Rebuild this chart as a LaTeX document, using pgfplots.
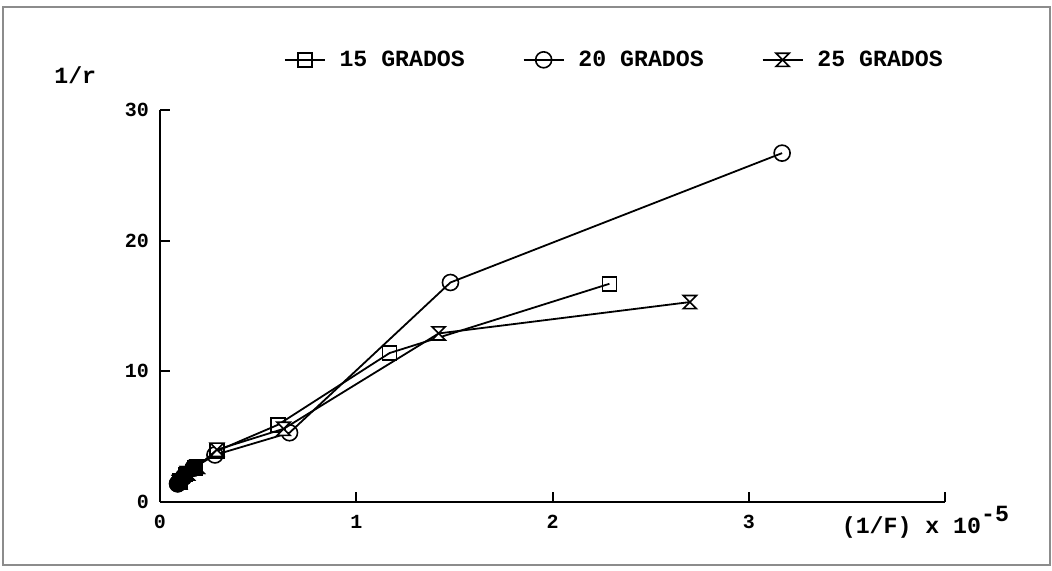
\documentclass[border=0pt]{standalone}
\usepackage{fontspec}
\setmainfont{Liberation Mono}
\usepackage{pgfplots}
\pgfplotsset{compat=1.18}
\pgfdeclareplotmark{hourglass}{%
  \pgfpathmoveto{\pgfqpoint{-\pgfplotmarksize}{\pgfplotmarksize}}%
  \pgfpathlineto{\pgfqpoint{\pgfplotmarksize}{\pgfplotmarksize}}%
  \pgfpathlineto{\pgfqpoint{-\pgfplotmarksize}{-\pgfplotmarksize}}%
  \pgfpathlineto{\pgfqpoint{\pgfplotmarksize}{-\pgfplotmarksize}}%
  \pgfpathclose
  \pgfusepathqfillstroke}
\begin{document}
\begin{tikzpicture}
\path[use as bounding box] (-80pt,-34.5pt) rectangle (446pt,251pt);
\draw[black!45, line width=0.7pt] (-78.5pt,-31.5pt) rectangle (445pt,247.5pt);
\begin{axis}[
  scale only axis, width=392.5pt, height=196pt,
  xmin=0, xmax=4, ymin=0, ymax=30,
  axis x line*=bottom, axis y line*=left,
  axis line style={-, line width=1.2pt},
  xtick={0,1,2,3,4}, xticklabels={0,1,2,3,{}},
  ytick={0,10,20,30},
  tick align=inside, major tick length=5pt,
  tick style={line width=1pt, black},
  /pgf/number format/assume math mode=true,
  ticklabel style={font=\fontsize{10}{12}\selectfont\bfseries},
  xticklabel style={yshift=-3pt},
  yticklabel style={xshift=-2pt},
  every axis plot/.append style={line width=0.9pt, black, mark options={solid, fill=white, line width=0.8pt}},
  legend style={draw=none, fill=none, at={(0.58,1.128)}, anchor=center,
    legend columns=3, font=\fontsize{11.6}{13}\selectfont\bfseries,
    /tikz/every even column/.append style={column sep=27pt},
    /tikz/every odd column/.append style={column sep=5pt}},
  legend image code/.code={\draw[mark repeat=2,mark phase=2] plot coordinates {(0cm,0cm)(0.35cm,0cm)(0.7cm,0cm)};},
  clip=false,
]
\addplot[mark=square, mark size=3.5pt] coordinates {
  (0.10,1.6) (0.13,2.1) (0.18,2.6) (0.29,3.9) (0.60,5.9) (1.17,11.4) (2.29,16.7)};
\addlegendentry{15 GRADOS}
\addplot[mark=o, mark size=4pt] coordinates {
  (0.09,1.4) (0.12,1.9) (0.17,2.6) (0.28,3.6) (0.66,5.3) (1.48,16.8) (3.17,26.7)};
\addlegendentry{20 GRADOS}
\addplot[mark=hourglass, mark size=3.3pt] coordinates {
  (0.10,1.5) (0.14,2.2) (0.19,2.7) (0.29,4.0) (0.63,5.6) (1.42,12.9) (2.70,15.3)};
\addlegendentry{25 GRADOS}
% dense overlapping marks near the origin print as a dark blob
\addplot[forget plot, only marks, mark=square*, mark size=3.5pt, mark options={fill=black}] coordinates {
  (0.10,1.6) (0.13,2.1) (0.18,2.6)};
\addplot[forget plot, only marks, mark=*, mark size=4pt, mark options={fill=black}] coordinates {
  (0.09,1.4) (0.12,1.9) (0.17,2.6)};
\addplot[forget plot, only marks, mark=hourglass, mark size=3.3pt, mark options={fill=black}] coordinates {
  (0.10,1.5) (0.14,2.2) (0.19,2.7)};
\node[font=\fontsize{11.6}{13}\selectfont\bfseries] at (rel axis cs:-0.108,1.089) {1/r};
\node[font=\fontsize{11.6}{13}\selectfont\bfseries] at (rel axis cs:0.975,-0.051) {(1/F) x 10\raisebox{6pt}{-5}};
\end{axis}
\end{tikzpicture}
\end{document}
